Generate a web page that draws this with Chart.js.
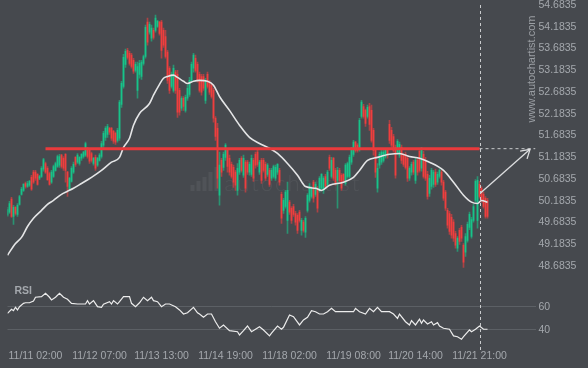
<!DOCTYPE html>
<html>
<head>
<meta charset="utf-8">
<script src="https://cdn.jsdelivr.net/npm/chart.js@4/dist/chart.umd.min.js"></script>
<style>
  html, body { margin: 0; padding: 0; background: #46494e; }
  canvas { display: block; }
</style>
</head>
<body>
<canvas id="chart" width="588" height="368"></canvas>
<script>
// ---- data ----
const tickIndex  = [14, 46, 77, 109, 141, 173, 204, 236];
const tickLabels = ['11/11 02:00', '11/12 07:00', '11/13 13:00', '11/14 19:00',
                    '11/18 02:00', '11/19 08:00', '11/20 14:00', '11/21 21:00'];
const priceTicks = [48.6835, 49.1835, 49.6835, 50.1835, 50.6835, 51.1835, 51.6835,
                    52.1835, 52.6835, 53.1835, 53.6835, 54.1835, 54.6835];
const rsiTicks = [40, 60];

// hourly candles: [open, close, high, low]
const candles = [
  [49.85,49.98,50.03,49.82],[49.92,50.12,50.17,49.89],[50.22,49.82,50.26,49.80],[49.82,50.03,50.08,49.64],
  [50.03,49.89,50.05,49.85],[49.87,50.08,50.12,49.82],[50.10,50.28,50.31,50.08],[50.33,50.45,50.49,50.31],
  [50.42,50.56,50.58,50.40],[50.58,50.51,50.61,50.47],[50.51,50.58,50.63,50.49],[50.54,50.63,50.65,50.51],
  [50.72,50.45,50.77,50.42],[50.84,50.61,50.88,50.58],[50.84,50.70,50.88,50.65],[50.79,50.56,50.81,50.54],
  [50.70,50.74,50.77,50.67],[50.74,50.93,50.97,50.72],[50.91,51.13,51.16,50.86],[51.04,50.84,51.07,50.81],
  [50.93,50.67,50.97,50.65],[50.81,50.56,50.84,50.54],[50.61,50.84,50.88,50.58],[50.74,50.97,51.00,50.72],
  [50.88,51.04,51.07,50.86],[50.97,51.20,51.23,50.95],[51.00,51.20,51.25,50.95],[51.23,50.97,51.25,50.93],
  [51.16,50.93,51.20,50.88],[51.25,50.88,51.27,50.61],[50.84,50.51,50.86,50.28],[50.45,50.70,50.72,50.42],
  [50.63,50.93,50.97,50.61],[50.84,51.02,51.07,50.81],[51.18,51.02,51.20,50.97],[51.07,51.23,51.27,51.04],
  [51.04,51.18,51.20,51.00],[51.16,51.25,51.27,51.11],
  [51.20,51.30,51.32,51.16],[51.23,51.50,51.53,51.20],[51.39,51.20,51.41,51.16],[51.34,51.09,51.37,51.04],
  [51.27,51.11,51.30,51.07],[51.04,51.16,51.18,51.00],[51.18,50.93,51.23,50.88],[51.00,51.16,51.18,50.97],
  [51.11,51.23,51.27,51.09],[51.20,51.50,51.55,51.16],[51.46,51.73,51.78,51.41],[51.64,51.85,51.89,51.57],
  [51.71,51.89,51.94,51.64],[51.85,51.76,51.87,51.71],[51.85,51.62,51.87,51.57],[51.78,51.55,51.80,51.50],
  [51.73,51.53,51.76,51.48],[51.57,51.80,51.85,51.53],[51.62,52.45,52.49,51.57],[52.40,52.88,52.93,52.33],
  [52.81,53.48,53.55,52.77],[53.32,53.62,53.67,53.25],[53.64,53.48,53.69,53.44],[53.57,53.34,53.62,53.30],
  [53.53,53.27,53.57,53.23],[53.41,53.16,53.46,53.11],[53.18,53.32,53.37,53.14],[52.72,53.27,53.37,52.54],
  [53.09,53.34,53.41,53.00],[53.04,53.37,53.41,52.97],[53.34,53.50,53.53,53.30],[53.50,54.17,54.22,53.46],
  [54.29,53.83,54.38,53.76],[54.06,54.24,54.29,54.01],[53.92,54.15,54.22,53.85],[54.10,53.94,54.15,53.90],
  [54.10,54.38,54.45,54.06],[54.19,54.31,54.33,54.17],[54.29,54.03,54.31,53.99],
  [54.29,53.64,54.33,53.46],[54.10,53.76,54.15,53.71],[53.96,53.50,54.10,53.46],[53.60,52.95,53.64,52.88],
  [53.23,52.72,53.27,52.65],[52.81,53.09,53.14,52.77],[52.72,53.23,53.30,52.68],[53.14,52.72,53.18,52.65],
  [53.09,52.22,53.18,52.10],[52.72,52.22,52.77,52.15],[52.31,52.54,52.58,52.26],[52.54,52.35,52.58,52.26],
  [52.26,52.56,52.61,52.22],[52.54,52.77,52.84,52.49],[52.63,52.95,53.02,52.58],[52.95,53.32,53.37,52.91],
  [53.23,53.53,53.57,53.14],[53.46,53.18,53.53,53.14],[53.32,52.95,53.37,52.91],[53.09,52.72,53.14,52.68],
  [53.04,52.68,53.09,52.61],[53.04,52.77,53.09,52.72],[52.49,52.91,53.00,52.42],[53.09,52.81,53.14,52.77],
  [52.91,52.68,52.95,52.63],[52.84,52.58,52.86,52.54],[52.72,52.08,52.77,51.99],[52.08,51.66,52.12,51.57],
  [51.85,50.70,51.96,50.47],[50.31,51.00,51.30,50.08],[51.11,50.84,51.16,50.74],[50.95,51.25,51.30,50.88],
  [51.18,51.46,51.50,51.11],[51.34,50.97,51.39,50.84],[51.16,50.84,51.23,50.77],[51.02,50.74,51.07,50.70],
  [50.95,50.61,51.00,50.49],[50.84,50.54,50.88,50.42],[50.42,50.93,51.04,50.31],[50.84,51.11,51.16,50.79],
  [51.16,50.88,51.20,50.84],[50.77,51.16,51.23,50.72],
  [51.07,50.47,51.11,50.38],[51.07,50.84,51.11,50.79],[50.84,51.02,51.07,50.77],[50.79,51.16,51.23,50.74],
  [51.11,50.70,51.16,50.63],[51.25,51.00,51.30,50.93],[51.30,51.02,51.34,50.97],[50.84,51.07,51.11,50.79],
  [51.11,50.65,51.16,50.58],[51.11,50.88,51.16,50.84],[51.02,50.70,51.07,50.65],[50.79,51.00,51.04,50.74],
  [50.88,50.56,50.93,50.51],[50.70,50.88,50.93,50.65],[50.74,50.97,51.00,50.70],[50.70,50.95,51.00,50.65],
  [50.84,51.02,51.04,50.79],[50.88,50.61,50.93,50.54],[50.33,49.78,50.38,49.66],[49.96,50.19,50.24,49.89],
  [50.05,50.38,50.42,50.01],[49.73,50.42,50.61,49.43],[50.15,49.92,50.19,49.87],[50.01,49.73,50.05,49.66],
  [50.05,49.87,50.10,49.82],[49.89,49.69,49.94,49.62],[49.85,49.50,49.89,49.43],[49.92,49.73,49.96,49.69],
  [49.50,49.73,49.78,49.39],[49.69,49.50,49.73,49.46],[49.46,49.78,49.82,49.34],[49.96,50.31,50.35,49.92],
  [50.19,50.51,50.58,50.15],[50.28,50.47,50.51,50.24],[50.61,50.24,50.65,50.15],[50.33,50.56,50.61,50.28],
  [50.47,50.01,50.51,49.92],[50.42,50.70,50.74,50.38],[50.47,50.79,50.81,50.42],[50.42,50.70,50.74,50.35],
  [50.74,50.51,50.79,50.47],[50.56,50.84,50.88,50.51],
  [51.18,50.93,51.23,50.88],[50.74,51.11,51.18,50.70],[51.16,50.70,51.18,50.65],[50.88,50.58,50.93,50.54],
  [50.65,50.88,50.95,50.01],[50.88,50.65,50.93,50.61],[50.77,50.47,50.81,50.42],[50.79,50.65,50.81,50.61],
  [50.58,51.00,51.04,50.54],[50.74,51.04,51.07,50.70],[50.74,51.18,51.23,50.70],[51.07,51.37,51.41,51.02],
  [51.25,51.53,51.57,51.20],[51.53,51.34,51.55,51.30],[51.46,51.34,51.50,51.30],[51.39,52.03,52.08,51.32],
  [52.12,52.45,52.49,52.08],[52.35,52.12,52.40,52.08],[52.26,51.96,52.29,51.89],[52.12,52.33,52.38,52.08],
  [52.35,51.94,52.42,51.80],[52.26,51.57,52.38,51.53],[51.80,51.34,51.85,51.23],[51.34,50.84,51.39,50.72],
  [50.47,50.93,51.04,50.38],[51.00,51.25,51.30,50.93],[51.07,51.30,51.34,51.02],[51.11,51.30,51.39,51.07],
  [51.20,51.34,51.39,51.16],[51.34,51.23,51.39,51.16],[51.94,51.57,52.03,51.50],[51.80,51.46,51.87,51.41],
  [51.66,51.34,51.71,51.30],
  [51.41,50.77,51.46,50.70],[51.30,51.55,51.59,51.25],[51.23,51.48,51.53,51.18],[51.41,51.11,51.46,51.04],
  [51.23,51.02,51.27,50.97],[51.25,50.95,51.30,50.91],[51.16,50.70,51.20,50.63],[50.70,50.93,50.97,50.65],
  [50.84,51.02,51.07,50.77],[51.07,50.84,51.11,50.79],[50.65,51.11,51.18,50.58],[51.11,50.84,51.16,50.77],
  [51.32,50.88,51.39,50.84],[50.93,51.34,51.41,50.86],[51.25,50.74,51.32,50.70],[51.11,50.70,51.18,50.65],
  [50.79,50.28,50.86,50.22],[50.35,50.70,50.77,50.28],[50.51,50.88,50.93,50.45],[50.56,50.84,50.88,50.49],
  [50.84,50.56,50.91,50.51],[50.61,50.79,50.84,50.56],[50.74,50.88,50.91,50.70],[50.84,50.61,50.88,50.54],
  [50.61,50.24,50.65,50.19],[50.38,50.01,50.42,49.96],[49.96,49.62,50.01,49.55],[49.89,49.48,49.94,49.41],
  [49.80,49.39,49.87,49.32],[49.69,49.32,49.75,49.25],[49.43,49.16,49.48,49.09],[49.09,49.32,49.36,49.02],
  [49.50,49.25,49.55,49.18],[49.57,49.32,49.62,49.25],[49.16,48.77,49.20,48.65],[49.00,49.36,49.43,48.90],
  [49.27,49.64,49.69,49.23],[49.57,49.87,49.92,49.52],[49.36,49.75,49.80,49.32],[49.73,50.05,50.10,49.69],
  [50.19,50.63,50.67,50.15],[49.73,50.65,50.74,49.55],[50.56,50.28,50.63,50.24],[50.47,50.19,50.51,50.15],
  [50.33,50.05,50.38,50.01],[50.24,49.82,50.28,49.78],[50.19,49.82,50.24,49.78]
];

// moving average, sampled along the curve: [candle index, price]
const maPoints = [
  [0,48.93],[4,49.20],[7,49.34],[10,49.59],[13,49.78],[17,49.96],[20,50.10],[23,50.19],[27,50.33],
  [30,50.40],[33,50.47],[37,50.58],[42,50.72],[47,50.88],[52,51.07],[56,51.18],[58,51.41],[61,51.62],
  [63,51.92],[66,52.19],[71,52.42],[73,52.61],[76,52.86],[78,53.00],[80,53.04],[83,53.07],[85,53.02],
  [88,52.93],[90,52.88],[93,52.93],[96,52.95],[100,52.93],[103,52.84],[106,52.58],[111,52.26],
  [116,51.92],[121,51.64],[126,51.50],[131,51.39],[135,51.27],[140,51.04],[145,50.77],[149,50.51],
  [154,50.47],[157,50.42],[161,50.54],[168,50.61],[173,50.72],[176,50.88],[180,51.11],[185,51.18],
  [191,51.25],[196,51.27],[201,51.20],[206,51.16],[211,51.07],[218,50.88],[223,50.61],[228,50.31],
  [232,50.15],[235,50.12],[237,50.19],[240,50.15]
];

// RSI turning points: [candle index, value]
const rsiPoints = [
  [0,54.3],[2,57.8],[3,56.6],[4,59.5],[5,57.2],[6,60],[8,62.9],[9,63.4],[11,63.4],[13,64.9],[14,68.1],
  [17,68.6],[19,71.5],[21,68.1],[22,65.8],[24,68.1],[26,71.5],[28,68.1],[30,66.4],[32,62.9],[35,62.3],
  [39,62.3],[40,65.2],[41,62.3],[43,65.2],[45,60],[47,59.5],[48,62.1],[51,64.3],[52,62.3],[53,65.2],
  [55,62.3],[56,64.3],[58,68.6],[61,68.6],[62,62.9],[64,60],[66,63.4],[68,68.1],[70,65.2],[72,68.1],
  [73,65.2],[75,64.3],[77,60],[79,62.3],[81,62.3],[84,60],[86,57.2],[88,53.7],[90,54.8],[93,59.5],
  [95,54.8],[96,53.7],[98,50.9],[100,53.7],[102,53.7],[104,47.1],[106,41.5],[108,44.3],[111,39.4],
  [115,38.5],[116,35.7],[118,39.4],[120,43.4],[122,38.5],[124,40.6],[126,42.8],[128,40],[131,34.9],
  [132,37.2],[135,43.4],[137,40.6],[138,42.3],[141,52.9],[143,51.4],[146,44.3],[148,48.6],[150,50.9],
  [152,56.6],[154,55.7],[156,53.7],[158,53.7],[160,55.7],[162,58.6],[164,55.7],[166,55.7],[173,55.7],
  [174,58.6],[176,55.7],[179,53.7],[181,58.6],[183,55.7],[185,59.5],[187,55.7],[191,55.7],[193,53.7],
  [195,50.0],[196,53.7],[199,47.1],[201,44.3],[202,48.0],[204,44.3],[206,49.2],[207,45.7],[208,48.6],
  [210,45.2],[212,47.1],[213,44.3],[215,46.3],[216,43.4],[218,41.5],[221,40.6],[223,34.9],[225,34.2],
  [227,32.0],[228,34.2],[231,40.0],[232,38.5],[234,40.6],[236,43.4],[238,40.6],[240,40.6]
];

const levelPrice  = 51.38;   // resistance line
const levelStart  = 19;
const signalIndex = 236;     // dashed marker candle
const arrowFrom   = [236.5, 50.36];
const arrowTo     = [261.25, 51.365];
const xMax = 264;

// ---- styling ----
const TEXT = '#a4a8ad';
const UP = '#17c48a';
const DOWN = '#ef3e3e';
const FONT = "'Liberation Sans', Arial, sans-serif";

const isUp = candles.map(c => c[1] >= c[0]);

const overlay = {
  id: 'overlay',
  beforeDatasetsDraw(chart) {
    const { ctx, chartArea, scales } = chart;
    const y = scales.y;
    // faint centre watermark
    ctx.save();
    ctx.fillStyle = 'rgba(255,255,255,0.06)';
    const bx = chartArea.left + 183, by = y.top + 186;
    [6, 10, 14, 19, 24].forEach((h, k) => {
      ctx.fillRect(bx + k * 6, by - h, 4, h);
    });
    ctx.font = "300 22px Lato, 'Open Sans', sans-serif";
    ctx.letterSpacing = '2px';
    ctx.textBaseline = 'alphabetic';
    ctx.fillText('autochartist', bx + 34, by);
    ctx.restore();
  },
  afterDatasetsDraw(chart) {
    const { ctx, chartArea, scales } = chart;
    const x = scales.x, y = scales.y, r = scales.yRsi;

    // dashed signal marker
    const sx = Math.round(x.getPixelForValue(signalIndex)) + 0.5;
    ctx.save();
    ctx.strokeStyle = '#c9cbcd';
    ctx.lineWidth = 1;
    ctx.setLineDash([3, 3]);
    ctx.beginPath();
    ctx.moveTo(sx, chartArea.top);
    ctx.lineTo(sx, chartArea.bottom + 2);
    ctx.stroke();
    ctx.restore();

    // arrow head
    const x0 = x.getPixelForValue(arrowFrom[0]), y0 = y.getPixelForValue(arrowFrom[1]);
    const x1 = x.getPixelForValue(arrowTo[0]),   y1 = y.getPixelForValue(arrowTo[1]);
    const ang = Math.atan2(y1 - y0, x1 - x0);
    const len = 10;
    ctx.save();
    ctx.strokeStyle = '#dcdddf';
    ctx.lineWidth = 1.3;
    ctx.beginPath();
    ctx.moveTo(x1 - len * Math.cos(ang - 0.55), y1 - len * Math.sin(ang - 0.55));
    ctx.lineTo(x1, y1);
    ctx.lineTo(x1 - len * Math.cos(ang + 0.55), y1 - len * Math.sin(ang + 0.55));
    ctx.stroke();
    ctx.restore();

    // RSI caption
    ctx.save();
    ctx.fillStyle = TEXT;
    ctx.font = 'bold 10.5px ' + FONT;
    ctx.textBaseline = 'middle';
    ctx.fillText('RSI', chartArea.left + 7, r.top + 12);
    ctx.restore();

    // vertical site text
    ctx.save();
    ctx.translate(chartArea.right - 4, y.top + 64);
    ctx.rotate(-Math.PI / 2);
    ctx.fillStyle = '#9b9fa4';
    ctx.font = '11px ' + FONT;
    ctx.textAlign = 'center';
    ctx.textBaseline = 'middle';
    ctx.fillText('www.autochartist.com', 0, 0);
    ctx.restore();
  }
};

new Chart(document.getElementById('chart'), {
  type: 'line',
  data: {
    datasets: [
      {
        type: 'bar', label: 'wick', yAxisID: 'y', order: 6, grouped: false,
        data: candles.map((c, i) => ({ x: i, y: [c[3], c[2]] })),
        backgroundColor: isUp.map(u => u ? 'rgba(23,196,138,0.6)' : 'rgba(239,62,62,0.6)'),
        barThickness: 1, borderWidth: 0
      },
      {
        type: 'bar', label: 'body', yAxisID: 'y', order: 5, grouped: false,
        data: candles.map((c, i) => ({ x: i, y: [Math.min(c[0], c[1]), Math.max(c[0], c[1])] })),
        backgroundColor: isUp.map(u => u ? UP : DOWN),
        barThickness: 1, borderWidth: 0
      },
      {
        label: 'MA', yAxisID: 'y', order: 4,
        data: maPoints.map(p => ({ x: p[0], y: p[1] })),
        borderColor: '#e4e5e6', borderWidth: 1.6, pointRadius: 0,
        cubicInterpolationMode: 'monotone'
      },
      {
        label: 'level', yAxisID: 'y', order: 3,
        data: [{ x: levelStart, y: levelPrice }, { x: signalIndex, y: levelPrice }],
        borderColor: '#ea3a3c', borderWidth: 3, pointRadius: 0
      },
      {
        label: 'level ext', yAxisID: 'y', order: 3,
        data: [{ x: signalIndex, y: levelPrice }, { x: xMax, y: levelPrice }],
        borderColor: '#c9cbcd', borderWidth: 1, borderDash: [3, 3], pointRadius: 0
      },
      {
        label: 'arrow', yAxisID: 'y', order: 2,
        data: [{ x: arrowFrom[0], y: arrowFrom[1] }, { x: arrowTo[0], y: arrowTo[1] }],
        borderColor: '#dcdddf', borderWidth: 1.3, pointRadius: 0
      },
      {
        label: 'RSI', yAxisID: 'yRsi', order: 1,
        data: rsiPoints.map(p => ({ x: p[0], y: p[1] })),
        borderColor: '#ececec', borderWidth: 1.2, pointRadius: 0, tension: 0
      }
    ]
  },
  options: {
    responsive: false,
    animation: false,
    devicePixelRatio: 1,
    layout: { padding: { left: 7.5, top: 5, right: 0, bottom: 0 } },
    plugins: { legend: { display: false }, tooltip: { enabled: false } },
    scales: {
      x: {
        type: 'linear', min: 0, max: xMax, offset: false,
        grid: { display: false, drawTicks: false }, border: { display: false },
        afterBuildTicks: s => { s.ticks = tickIndex.map(v => ({ value: v })); },
        afterFit: s => { s.height = 20; s.paddingLeft = 0; s.paddingRight = 0; },
        ticks: {
          color: TEXT, font: { family: FONT, size: 10.5 }, padding: 2,
          maxRotation: 0, autoSkip: false,
          callback: v => { const k = tickIndex.indexOf(v); return k >= 0 ? tickLabels[k] : ''; }
        }
      },
      y: {
        position: 'right', stack: 'panes', stackWeight: 274,
        min: 48.3835, max: 54.6835,
        grid: { display: false, drawTicks: false }, border: { display: false },
        afterBuildTicks: s => { s.ticks = priceTicks.map(v => ({ value: v })); },
        afterFit: s => { s.width = 52.5; s.paddingTop = 0; s.paddingBottom = 0; },
        ticks: { color: TEXT, font: { family: FONT, size: 10.5 }, padding: 3, autoSkip: false,
                 callback: v => v.toFixed(4) }
      },
      yRsi: {
        type: 'linear', position: 'right', stack: 'panes', stackWeight: 69,
        min: 24.5, max: 83.8,
        grid: { color: '#5c6065', drawTicks: false, lineWidth: 1 }, border: { display: false },
        afterBuildTicks: s => { s.ticks = rsiTicks.map(v => ({ value: v })); },
        afterFit: s => { s.width = 52.5; s.paddingTop = 0; s.paddingBottom = 0; },
        ticks: { color: TEXT, font: { family: FONT, size: 10.5 }, padding: 3, autoSkip: false }
      }
    }
  },
  plugins: [overlay]
});
</script>
</body>
</html>
